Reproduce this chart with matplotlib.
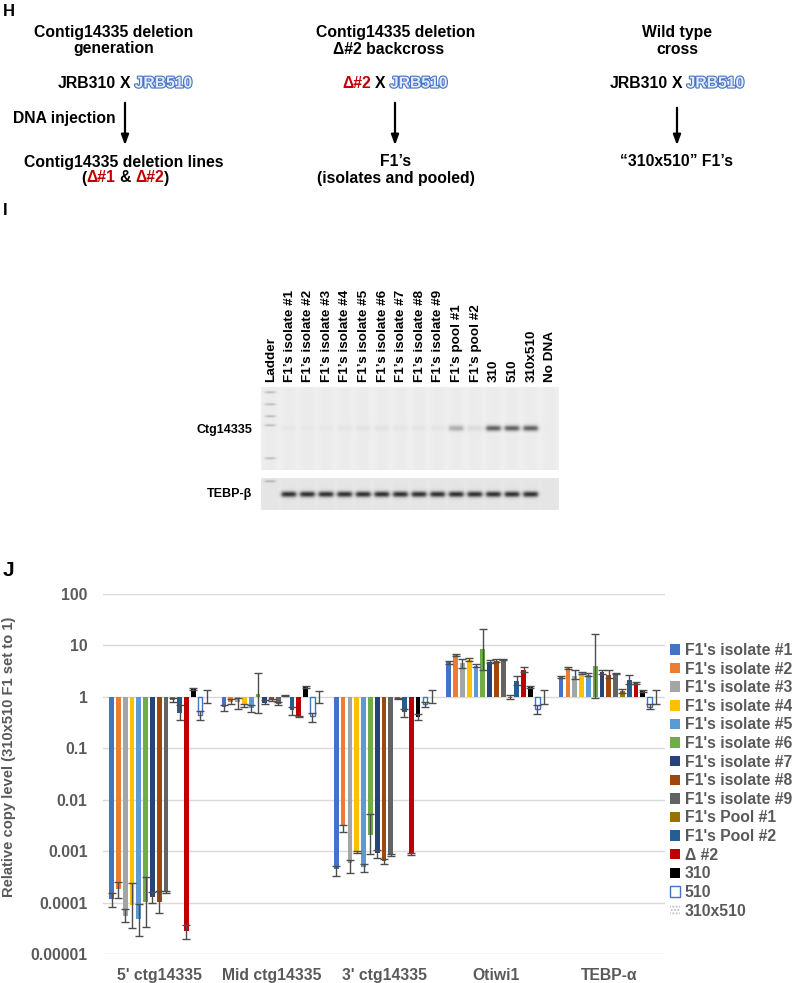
import numpy as np
import matplotlib
matplotlib.use('Agg')
import matplotlib.pyplot as plt
from matplotlib import patheffects
from matplotlib.ticker import NullLocator

plt.rcParams['font.family'] = ['Liberation Sans', 'DejaVu Sans']

W, H = 792, 983

# ---------------- panel J data ----------------
groups = ["5' ctg14335", "Mid ctg14335", "3' ctg14335", "Otiwi1", "TEBP-\u03b1"]
series = ["F1's isolate #1", "F1's isolate #2", "F1's isolate #3", "F1's isolate #4",
          "F1's isolate #5", "F1's isolate #6", "F1's isolate #7", "F1's isolate #8",
          "F1's isolate #9", "F1's Pool #1", "F1's Pool #2", "\u0394 #2", "310", "510",
          "310x510"]
colors = ['#4472C4', '#ED7D31', '#A5A5A5', '#FFC000', '#5B9BD5', '#70AD47', '#264478',
          '#9E480E', '#636363', '#997300', '#255E91', '#C00000', '#000000', '#FFFFFF',
          '#FFFFFF']

val_5p = [1.15e-4, 1.8e-4, 5.6e-5, 9.1e-5, 4.7e-5, 1.02e-4, 1.26e-4, 1.02e-4, 1.6e-4, 0.85, 0.48, 2.8e-5, 1.42, 0.45, 1.0]
lo_5p = [8.2e-5, 1.2e-4, 4.2e-5, 3.2e-5, 2.2e-5, 3.3e-5, 9.8e-5, 6.3e-5, 1.55e-4, 0.78, 0.35, 2.0e-5, 1.36, 0.35, 0.75]
hi_5p = [1.55e-4, 2.5e-4, 7.4e-5, 2.45e-4, 9.3e-5, 3.1e-4, 1.6e-4, 1.7e-4, 1.65e-4, 0.93, 0.68, 3.6e-5, 1.48, 0.52, 1.33]

val_mid = [0.63, 0.8, 0.78, 0.69, 0.62, 1.15, 0.77, 0.87, 0.74, 1.07, 0.56, 0.42, 1.55, 0.42, 1.0]
lo_mid = [0.53, 0.74, 0.59, 0.64, 0.5, 0.49, 0.72, 0.82, 0.69, 1.02, 0.44, 0.41, 1.5, 0.33, 0.76]
hi_mid = [0.69, 0.89, 0.93, 0.72, 0.7, 2.9, 0.86, 0.92, 0.8, 1.1, 0.64, 0.43, 1.62, 0.48, 1.31]

val_3p = [4.4e-4, 3.1e-3, 6.0e-4, 9.8e-4, 5.0e-4, 2.1e-3, 9.4e-4, 6.4e-4, 8.5e-4, 0.93, 0.5, 8.7e-4, 0.41, 0.72, 1.0]
lo_3p = [3.3e-4, 2.35e-3, 3.7e-4, 9.3e-4, 3.9e-4, 8.7e-4, 7.2e-4, 5.5e-4, 8.2e-4, 0.9, 0.4, 8.4e-4, 0.36, 0.64, 0.76]
hi_3p = [5.1e-4, 3.2e-3, 6.6e-4, 1.0e-3, 5.5e-4, 5.2e-3, 1.05e-3, 7.0e-4, 8.8e-4, 0.97, 0.57, 9.0e-4, 0.46, 0.8, 1.35]

val_otw = [4.67, 6.5, 4.5, 5.3, 3.96, 8.35, 4.8, 5.0, 5.3, 0.95, 2.05, 3.4, 1.57, 0.57, 1.0]
lo_otw = [4.4, 6.1, 3.6, 4.9, 3.8, 3.4, 4.6, 4.75, 5.2, 0.92, 1.7, 3.1, 1.52, 0.47, 0.74]
hi_otw = [4.95, 6.75, 5.4, 5.6, 4.4, 20.5, 5.2, 5.4, 5.4, 1.08, 2.5, 3.8, 1.62, 0.69, 1.35]

val_teb = [2.45, 3.7, 2.6, 2.93, 2.64, 3.96, 3.07, 2.7, 2.85, 1.29, 2.1, 1.87, 1.29, 0.64, 1.0]
lo_teb = [2.35, 3.55, 2.2, 2.75, 2.5, 0.97, 2.8, 2.3, 2.8, 1.2, 1.75, 1.8, 1.25, 0.57, 0.74]
hi_teb = [2.6, 3.85, 3.4, 3.1, 2.85, 17.0, 3.3, 3.3, 2.9, 1.45, 2.65, 1.95, 1.33, 0.74, 1.35]

yticks = [1e-5, 1e-4, 1e-3, 1e-2, 1e-1, 1, 10, 100]
yticklabels = ['0.00001', '0.0001', '0.001', '0.01', '0.1', '1', '10', '100']

# ---------------- panel I data ----------------
lanes = ['Ladder', "F1\u2019s isolate #1", "F1\u2019s isolate #2", "F1\u2019s isolate #3",
         "F1\u2019s isolate #4", "F1\u2019s isolate #5", "F1\u2019s isolate #6",
         "F1\u2019s isolate #7", "F1\u2019s isolate #8", "F1\u2019s isolate #9",
         "F1\u2019s pool #1", "F1\u2019s pool #2", '310', '510', '310x510', 'No DNA']
ctg_band = [0, 0.02, 0.02, 0.02, 0.03, 0.04, 0.04, 0.03, 0.03, 0.03, 0.25, 0.07, 0.55, 0.55, 0.55, 0]
tebp_band = [0, 0.72, 0.72, 0.72, 0.72, 0.72, 0.72, 0.72, 0.72, 0.72, 0.72, 0.72, 0.72, 0.72, 0.72, 0]
ladder_top = [392, 404, 416, 425, 458]
ladder_bot = [481]

RED = '#C00000'
BLUE = '#4472C4'
GRAY = '#595959'

fig = plt.figure(figsize=(W / 100, H / 100), dpi=100)

# overlay in pixel coordinates for panels H and I
ov = fig.add_axes([0, 0, 1, 1])
ov.axis('off')
renderer = fig.canvas.get_renderer()
outline = [patheffects.withStroke(linewidth=1.6, foreground=BLUE)]


def rich(x, y, parts, size=11.3):
    # parts: (text, colour, effects, space_before)
    sp1 = ov.text(0, 0, 'a a', fontsize=size, weight='bold')
    sp2 = ov.text(0, 0, 'aa', fontsize=size, weight='bold')
    space = sp1.get_window_extent(renderer).width - sp2.get_window_extent(renderer).width
    sp1.remove()
    sp2.remove()
    texts, widths = [], []
    for s, c, fx, gap in parts:
        t = ov.text(0, y, s, color=c, fontsize=size, weight='bold', ha='left', va='center',
                    path_effects=fx)
        texts.append((t, gap))
        widths.append(t.get_window_extent(renderer).width)
    total = sum(widths) + space * sum(g for _, g in texts)
    cur = x - total / 2
    for (t, gap), w in zip(texts, widths):
        cur += space * gap
        t.set_x(cur)
        cur += w


def label(x, y, s, **kw):
    ov.text(x, y, s, fontsize=11.3, weight='bold', ha='center', va='center', **kw)


ov.text(3, 4, 'H', fontsize=12, weight='bold', va='top')
label(114, 32, 'Contig14335 deletion')
label(114, 49, 'generation')
label(396, 32, 'Contig14335 deletion')
label(389, 49, '\u0394#2 backcross')
label(677, 32, 'Wild type')
label(677, 49, 'cross')

rich(125, 83, [('JRB310', 'k', None, 0), ('X', 'k', None, 1), ('JRB510', '#E3EBF8', outline, 1)])
rich(395, 83, [('\u0394#2', RED, None, 0), ('X', 'k', None, 1), ('JRB510', '#E3EBF8', outline, 1)])
rich(677, 83, [('JRB310', 'k', None, 0), ('X', 'k', None, 1), ('JRB510', '#E3EBF8', outline, 1)])

ov.text(116, 119, 'DNA injection', fontsize=11.3, weight='bold', ha='right', va='center')
for ax_x, y_top in [(125, 100), (395, 100), (677, 105)]:
    ov.annotate('', xy=(ax_x, 148), xytext=(ax_x, y_top),
                arrowprops=dict(arrowstyle='-|>,head_length=0.6,head_width=0.22',
                                color='k', lw=1.6))

label(124, 162, 'Contig14335 deletion lines')
rich(125, 178, [('(', 'k', None, 0), ('\u0394#1', RED, None, 0), ('&', 'k', None, 1),
                ('\u0394#2', RED, None, 1), (')', 'k', None, 0)])
label(396, 162, 'F1\u2019s')
label(396, 178, '(isolates and pooled)')
label(676, 162, '\u201c310x510\u201d F1\u2019s')

# ---------------- panel I: gel ----------------
ov.text(3, 203, 'I', fontsize=12, weight='bold', va='top')
GX0, GX1 = 261, 559
LANE0, LANE_DX = 270, 18.6


def gel(band, y0, y1, band_y, ladder, bg):
    xs = np.arange(GX0, GX1, 0.5)
    ys = np.arange(y0, y1, 0.5)
    img = np.full((ys.size, xs.size), bg)
    for k, inten in enumerate(band):
        cx = LANE0 + k * LANE_DX
        px = 1 / (1 + np.exp((np.abs(xs - cx) - 7.2) / 1.0))
        py = np.exp(-((ys - band_y) / 2.8) ** 2)
        img -= inten * np.outer(py, px)
        img -= 0.015 * np.outer(np.ones_like(ys), px)
    for ly in ladder:
        px = 1 / (1 + np.exp((np.abs(xs - LANE0) - 5) / 1.0))
        py = np.exp(-((ys - ly) / 1.1) ** 2)
        img -= 0.2 * np.outer(py, px)
    ov.imshow(img, cmap='gray', vmin=0, vmax=1, extent=(GX0, GX1, y1, y0),
              aspect='auto', interpolation='bilinear')


gel(ctg_band, 387, 470, 428, ladder_top, 0.94)
gel(tebp_band, 478, 510, 494, ladder_bot, 0.91)

for k, name in enumerate(lanes):
    ov.text(LANE0 + k * LANE_DX + 1, 382, name, rotation=90, fontsize=9.7, weight='bold',
            ha='center', va='bottom')
ov.text(252, 430, 'Ctg14335', fontsize=9, weight='bold', ha='right', va='center')
ov.text(252, 494, 'TEBP-\u03b2', fontsize=9, weight='bold', ha='right', va='center')

ov.set_xlim(0, W)
ov.set_ylim(H, 0)

# ---------------- panel J: bar chart ----------------
fig.text(3 / W, 1 - 561 / H, 'J', fontsize=15, weight='bold', va='top')
ax = fig.add_axes([103 / W, 1 - 954 / H, (665 - 103) / W, (954 - 594) / H])
ax.set_yscale('log')

vals = np.array([val_5p, val_mid, val_3p, val_otw, val_teb])
los = np.array([lo_5p, lo_mid, lo_3p, lo_otw, lo_teb])
his = np.array([hi_5p, hi_mid, hi_3p, hi_otw, hi_teb])
x = np.arange(len(groups))
slot = 0.0606
handles = []
for j, name in enumerate(series):
    xp = x + (j - 7) * slot
    v = vals[:, j]
    if name == '510':
        b = ax.bar(xp, v - 1, bottom=1, width=0.042, color='white', edgecolor=BLUE, lw=1)
    elif name == '310x510':
        b = ax.bar(xp, v - 1, bottom=1, width=0.042, color='white', edgecolor='#BFBFBF',
                   hatch='.....', lw=0)
    else:
        b = ax.bar(xp, v - 1, bottom=1, width=0.042, color=colors[j], lw=0)
    handles.append(b)
    ax.errorbar(xp, v, yerr=[v - los[:, j], his[:, j] - v], fmt='none', ecolor='#4D4D4D',
                elinewidth=1, capsize=2.6, capthick=1)

ax.set_xlim(-0.5, 4.5)
ax.set_ylim(1e-5, 100)
ax.set_yticks(yticks)
ax.set_yticklabels(yticklabels)
ax.yaxis.set_minor_locator(NullLocator())
ax.set_xticks(x)
ax.set_xticklabels(groups)
ax.tick_params(length=0, labelsize=11.3, labelcolor=GRAY)
ax.tick_params(axis='y', pad=11)
ax.tick_params(axis='x', pad=10)
for t in ax.get_xticklabels() + ax.get_yticklabels():
    t.set_fontweight('bold')
ax.yaxis.grid(True, color='#D9D9D9', lw=1)
ax.set_axisbelow(True)
for s in ax.spines.values():
    s.set_visible(False)

fig.text(9 / W, 1 - 757 / H, 'Relative copy level (310x510 F1 set to 1)', rotation=90,
         ha='center', va='center', fontsize=10.6, weight='bold', color=GRAY)

leg = ax.legend(handles, series, loc='upper left', bbox_to_anchor=(670 / W, 1 - 643 / H),
                bbox_transform=fig.transFigure, frameon=False,
                prop={'weight': 'bold', 'size': 11.3}, labelcolor=GRAY, handlelength=0.65,
                handleheight=0.65, handletextpad=0.3, labelspacing=0.23, borderpad=0,
                borderaxespad=0)

fig.savefig('out.png', dpi=100)
